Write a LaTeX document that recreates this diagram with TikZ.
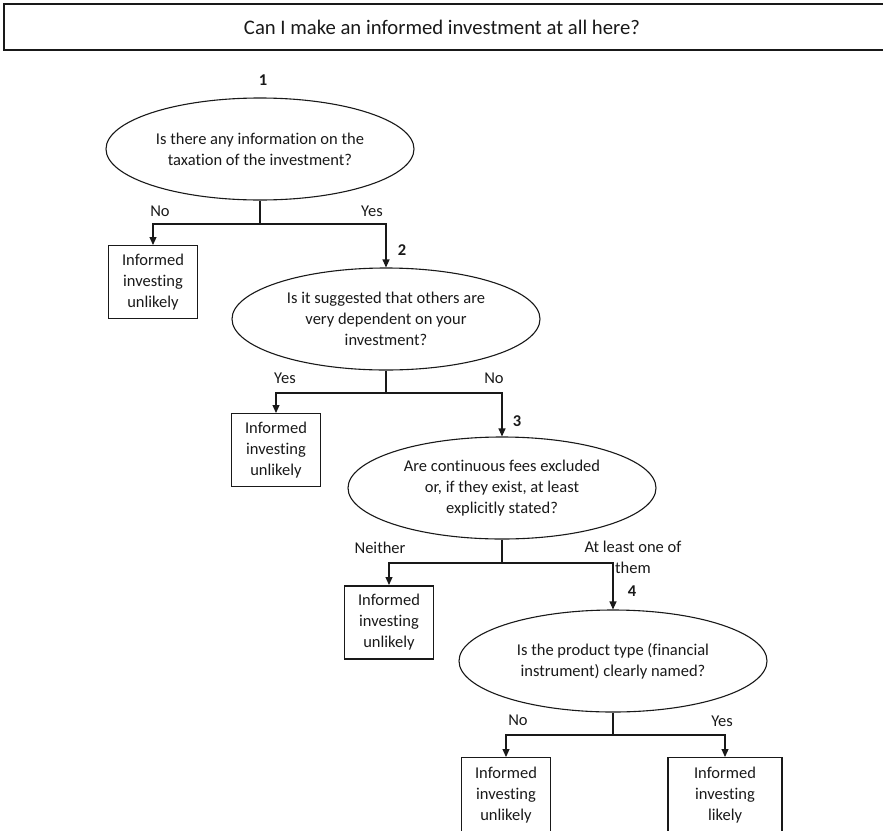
\documentclass[tikz,border=0pt]{standalone}
\usepackage{fontspec}
\setmainfont{Carlito}[RawFeature=-liga]
\usetikzlibrary{shapes.geometric,arrows.meta}

\begin{document}
\begin{tikzpicture}[x=1pt, y=-1pt,
            color=black!90, line width=1.1pt,
            font=\fontsize{16.5}{21}\selectfont,
            question/.style={draw, ellipse, minimum width=308pt, minimum height=102pt,
                inner xsep=-6pt, inner ysep=0pt, align=center},
            outcome/.style={draw, anchor=north, minimum width=89pt, minimum height=73pt,
                inner sep=0pt, align=center},
            stepnum/.style={font=\fontsize{16.5}{19}\selectfont\bfseries},
            link/.style={-{Triangle[length=8pt,width=7pt]}}
        ]
            \useasboundingbox (0,0) rectangle (883,830);
            \clip (0,0) rectangle (883,830);

            % title bar
            \draw[line width=1.5pt] (4,4) rectangle (895,50);
            \node[font=\fontsize{20.7}{24}\selectfont] (title) at (442,27) {Can I make an informed investment at all here?};

            % questions
            \node[stepnum] (n1) at (263,80) {1};
            \node[question] (q1) at (260,149) {Is there any information on the\\taxation of the investment?};
            \node[stepnum] (n2) at (402,250) {2};
            \node[question] (q2) at (386,319) {Is it suggested that others are\\very dependent on your\\investment?};
            \node[stepnum] (n3) at (517,421) {3};
            \node[question] (q3) at (502,488) {Are continuous fees excluded\\or, if they exist, at least\\explicitly stated?};
            \node[stepnum] (n4) at (632,591) {4};
            \node[question] (q4) at (613,661) {Is the product type (financial\\instrument) clearly named?};

            % outcomes
            \node[outcome] (u1) at (153,245) {Informed\\investing\\unlikely};
            \node[outcome] (u2) at (276,413) {Informed\\investing\\unlikely};
            \node[outcome, line width=1.8pt] (u3) at (389,585) {Informed\\investing\\unlikely};
            \node[outcome, minimum height=76pt] (u4) at (506,757) {Informed\\investing\\unlikely};
            \node[outcome, minimum height=76pt, minimum width=114pt] (lk) at (725,757) {Informed\\investing\\likely};

            % branch points
            \coordinate (j1) at (260,224);
            \coordinate (j2) at (386,393);
            \coordinate (j3) at (502,563);
            \coordinate (j4) at (613,735);

            \draw (q1.south) -- (j1);
            \draw[link] (j1) -| (u1.north);
            \draw[link] (j1) -| (q2.north);
            \draw (q2.south) -- (j2);
            \draw[link] (j2) -| (u2.north);
            \draw[link] (j2) -| (q3.north);
            \draw (q3.south) -- (j3);
            \draw[link] (j3) -| (u3.north);
            \draw[link] (j3) -| (q4.north);
            \draw (q4.south) -- (j4);
            \draw[link] (j4) -| (u4.north);
            \draw[link] (j4) -| (lk.north);

            % answers
            \node (a1no) at (160,211) {No};
            \node (a1yes) at (372,211) {Yes};
            \node (a2yes) at (285,378) {Yes};
            \node (a2no) at (494,378) {No};
            \node (a3neither) at (380,548) {Neither};
            \node[align=center] (a3one) at (633,557) {At least one of\\them};
            \node (a4no) at (518,720) {No};
            \node (a4yes) at (722,721) {Yes};
        \end{tikzpicture}
\end{document}
